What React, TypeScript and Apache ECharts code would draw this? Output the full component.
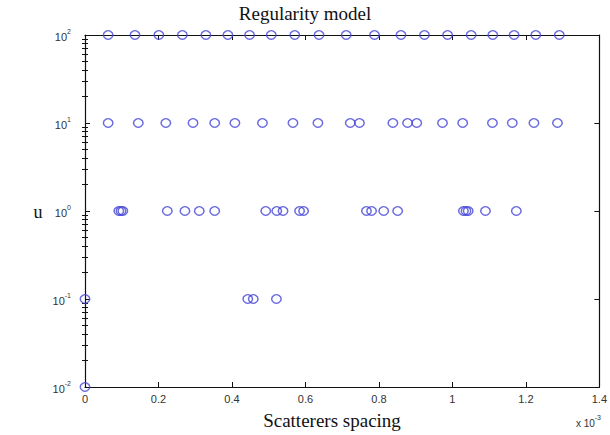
import React, { useEffect, useRef } from "react";
import * as echarts from "echarts";

// x values are in units of 1e-3 (axis shows "x 10^-3")
const row100X = [0.063, 0.136, 0.201, 0.265, 0.329, 0.389, 0.448, 0.507, 0.571, 0.637, 0.711, 0.788, 0.86, 0.924, 0.987, 1.051, 1.11, 1.168, 1.227, 1.291];
const row10X = [0.063, 0.145, 0.22, 0.294, 0.353, 0.408, 0.483, 0.566, 0.634, 0.722, 0.747, 0.838, 0.878, 0.903, 0.973, 1.028, 1.109, 1.163, 1.222, 1.286];
const row1X = [0.092, 0.098, 0.103, 0.224, 0.272, 0.311, 0.353, 0.492, 0.522, 0.539, 0.584, 0.595, 0.766, 0.78, 0.813, 0.851, 1.03, 1.037, 1.043, 1.09, 1.174];
const row01X = [0, 0.443, 0.458, 0.521];
const row001X = [0];

const rows: { u: number; xs: number[] }[] = [
  { u: 100, xs: row100X },
  { u: 10, xs: row10X },
  { u: 1, xs: row1X },
  { u: 0.1, xs: row01X },
  { u: 0.01, xs: row001X },
];

const xMin = 0;
const xMax = 1.4;
const xInterval = 0.2;
const yMin = 0.01;
const yMax = 100;
const decades = [0.01, 0.1, 1, 10];
const minorMultipliers = [2, 3, 4, 5, 6, 7, 8, 9];

const titleText = "Regularity model";
const xName = "Scatterers spacing";
const yName = "u";

export default function App() {
  const ref = useRef<HTMLDivElement>(null);
  useEffect(() => {
    if (!ref.current) return;
    const chart = echarts.init(ref.current, undefined, { renderer: "svg" });
    const minorVals: number[] = [];
    decades.forEach((d) => minorMultipliers.forEach((m) => minorVals.push(+(d * m).toPrecision(6))));
    const data: number[][] = [];
    rows.forEach((r) => r.xs.forEach((x) => data.push([x, r.u])));

    const tickFont = "Liberation Sans";
    const baseY = {
      type: "log" as const,
      logBase: 10,
      min: yMin,
      max: yMax,
      splitLine: { show: false },
    };
    const option: any = {
      animation: false,
      backgroundColor: "#ffffff",
      grid: { left: 85, right: 9, top: 35, bottom: 48, containLabel: false },
      xAxis: [
        {
          type: "value",
          min: xMin,
          max: xMax,
          interval: xInterval,
          position: "bottom",
          axisLine: { show: true, onZero: false, lineStyle: { color: "#111", width: 1.2 } },
          axisTick: { show: true, inside: true, length: 5, lineStyle: { color: "#111" } },
          axisLabel: {
            margin: 6,
            fontFamily: tickFont,
            fontSize: 11,
            color: "#333",
            formatter: (v: number) => String(+v.toFixed(1)),
          },
          splitLine: { show: false },
        },
        {
          type: "value",
          min: xMin,
          max: xMax,
          interval: xInterval,
          position: "top",
          axisLine: { show: true, onZero: false, lineStyle: { color: "#111", width: 1.2 } },
          axisTick: { show: true, inside: true, length: 5, lineStyle: { color: "#111" } },
          axisLabel: { show: false },
          splitLine: { show: false },
        },
      ],
      yAxis: [
        {
          ...baseY,
          position: "left",
          axisLine: { show: true, onZero: false, lineStyle: { color: "#111", width: 1.2 } },
          axisTick: { show: true, inside: true, length: 5, lineStyle: { color: "#111" } },
          axisLabel: {
            margin: 14,
            formatter: (v: number) => `{b|10}{e|${Math.round(Math.log10(v))}}`,
            rich: {
              b: { fontFamily: tickFont, fontSize: 11, color: "#333", lineHeight: 15, verticalAlign: "bottom" },
              e: { fontFamily: tickFont, fontSize: 7, color: "#333", lineHeight: 8, verticalAlign: "top" },
            },
          },
        },
        {
          ...baseY,
          position: "left",
          axisLine: { show: false },
          axisTick: { show: true, inside: true, length: 3, customValues: minorVals, lineStyle: { color: "#111" } },
          axisLabel: { show: false },
        },
        {
          ...baseY,
          position: "right",
          axisLine: { show: true, onZero: false, lineStyle: { color: "#111", width: 1.2 } },
          axisTick: { show: true, inside: true, length: 5, lineStyle: { color: "#111" } },
          axisLabel: { show: false },
        },
        {
          ...baseY,
          position: "right",
          axisLine: { show: false },
          axisTick: { show: true, inside: true, length: 3, customValues: minorVals, lineStyle: { color: "#111" } },
          axisLabel: { show: false },
        },
      ],
      series: [
        {
          type: "scatter",
          xAxisIndex: 0,
          yAxisIndex: 0,
          data,
          clip: false,
          symbol: "circle",
          symbolSize: [9.5, 8.5],
          itemStyle: { color: "rgba(0,0,0,0)", borderColor: "#4444d8", borderWidth: 1.4 },
          z: 5,
        },
      ],
      graphic: [
        {
          type: "text",
          x: 305,
          y: 13,
          style: {
            text: titleText,
            font: '19px "Liberation Serif"',
            fill: "#111",
            align: "center",
            verticalAlign: "middle",
          },
        },
        {
          type: "text",
          x: 38,
          y: 212,
          style: {
            text: yName,
            font: '18px "Liberation Serif"',
            fill: "#111",
            align: "center",
            verticalAlign: "middle",
          },
        },
        {
          type: "text",
          x: 332,
          y: 420,
          style: {
            text: xName,
            font: '19px "Liberation Serif"',
            fill: "#111",
            align: "center",
            verticalAlign: "middle",
          },
        },
        {
          type: "text",
          x: 601,
          y: 421,
          style: {
            text: "{a|x 10}{e|-3}",
            align: "right",
            verticalAlign: "middle",
            rich: {
              a: { fontFamily: tickFont, fontSize: 10, fill: "#333", color: "#333", lineHeight: 14, verticalAlign: "bottom" },
              e: { fontFamily: tickFont, fontSize: 7, fill: "#333", color: "#333", lineHeight: 8, verticalAlign: "top" },
            },
          },
        },
      ],
    };
    chart.setOption(option);
    return () => chart.dispose();
  }, []);
  return <div ref={ref} style={{ position: "fixed", left: 0, top: 0, width: 610, height: 435 }} />;
}
